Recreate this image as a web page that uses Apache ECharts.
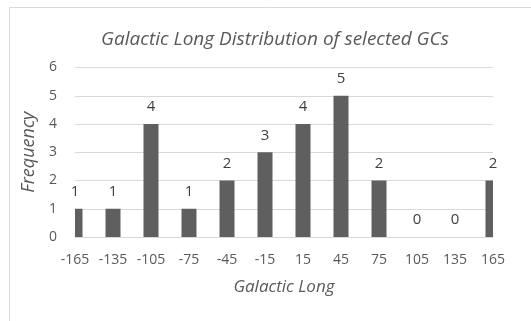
<!DOCTYPE html>
<html>
<head>
<meta charset="utf-8">
<script src="https://cdn.jsdelivr.net/npm/echarts@6/dist/echarts.min.js"></script>
<style>
  html, body { margin: 0; padding: 0; background: #fff; }
  #chart { width: 531px; height: 321px; }
</style>
</head>
<body>
<div id="chart"></div>
<script>
// Galactic longitude bins (degrees) and how many clusters fall in each
const longitudes = ['-165', '-135', '-105', '-75', '-45', '-15', '15', '45', '75', '105', '135', '165'];
const frequency = [1, 1, 4, 1, 2, 3, 4, 5, 2, 0, 0, 2];
const yTicks = [0, 1, 2, 3, 4, 5, 6];

const FONT = 'Open Sans';
const TEXT = '#595959';
const BAR_WIDTH = 15;

const chart = echarts.init(document.getElementById('chart'), null, { renderer: 'canvas' });

// Columns sit on the tick marks; the outermost ones are cut at the plot edge.
function renderColumn(params, api) {
  const idx = api.value(0);
  const val = api.value(1);
  const top = api.coord([idx, val]);
  const base = api.coord([idx, 0]);
  const cs = params.coordSys;
  const children = [];
  if (base[1] - top[1] > 0) {
    const rect = echarts.graphic.clipRectByRect(
      { x: top[0] - BAR_WIDTH / 2, y: top[1], width: BAR_WIDTH, height: base[1] - top[1] },
      { x: cs.x, y: cs.y, width: cs.width, height: cs.height }
    );
    if (rect) {
      children.push({ type: 'rect', shape: rect, style: { fill: '#5f5f5f' } });
    }
  }
  children.push({
    type: 'text',
    x: top[0],
    y: top[1] - 17,
    style: {
      text: String(val),
      fontFamily: FONT,
      fontSize: 15,
      fill: '#404040',
      align: 'center',
      verticalAlign: 'middle'
    }
  });
  return { type: 'group', children: children };
}

chart.setOption({
  backgroundColor: '#ffffff',
  animation: false,
  graphic: [{
    type: 'rect',
    shape: { x: 9.5, y: 7.5, width: 560, height: 360 },
    style: { fill: 'none', stroke: '#d9d9d9', lineWidth: 1 },
    silent: true,
    z: -1
  }],
  title: {
    text: 'Galactic Long Distribution of selected GCs',
    left: 270,
    top: 25,
    textAlign: 'center',
    textStyle: { fontFamily: FONT, fontStyle: 'italic', fontWeight: 'normal', fontSize: 19, color: TEXT }
  },
  grid: { left: 75, right: 38, top: 67.5, bottom: 84 },
  xAxis: {
    type: 'category',
    data: longitudes,
    boundaryGap: false,
    name: 'Galactic Long',
    nameLocation: 'middle',
    nameGap: 42,
    nameTextStyle: { fontFamily: FONT, fontStyle: 'italic', fontSize: 17, color: TEXT },
    axisLine: { lineStyle: { color: '#d9d9d9' } },
    axisTick: { show: false },
    axisLabel: { fontFamily: FONT, fontSize: 14, color: TEXT, margin: 16, interval: 0 }
  },
  yAxis: {
    type: 'value',
    min: yTicks[0],
    max: yTicks[yTicks.length - 1],
    interval: 1,
    name: 'Frequency',
    nameLocation: 'middle',
    nameGap: 36,
    nameTextStyle: { fontFamily: FONT, fontStyle: 'italic', fontSize: 18, color: TEXT },
    axisLine: { show: false },
    axisTick: { show: false },
    splitLine: { lineStyle: { color: '#d9d9d9' } },
    axisLabel: { fontFamily: FONT, fontSize: 14, color: TEXT, margin: 18 }
  },
  series: [{
    type: 'custom',
    renderItem: renderColumn,
    data: frequency.map((v, i) => [i, v]),
    encode: { x: 0, y: 1 },
    clip: false
  }]
});
</script>
</body>
</html>
